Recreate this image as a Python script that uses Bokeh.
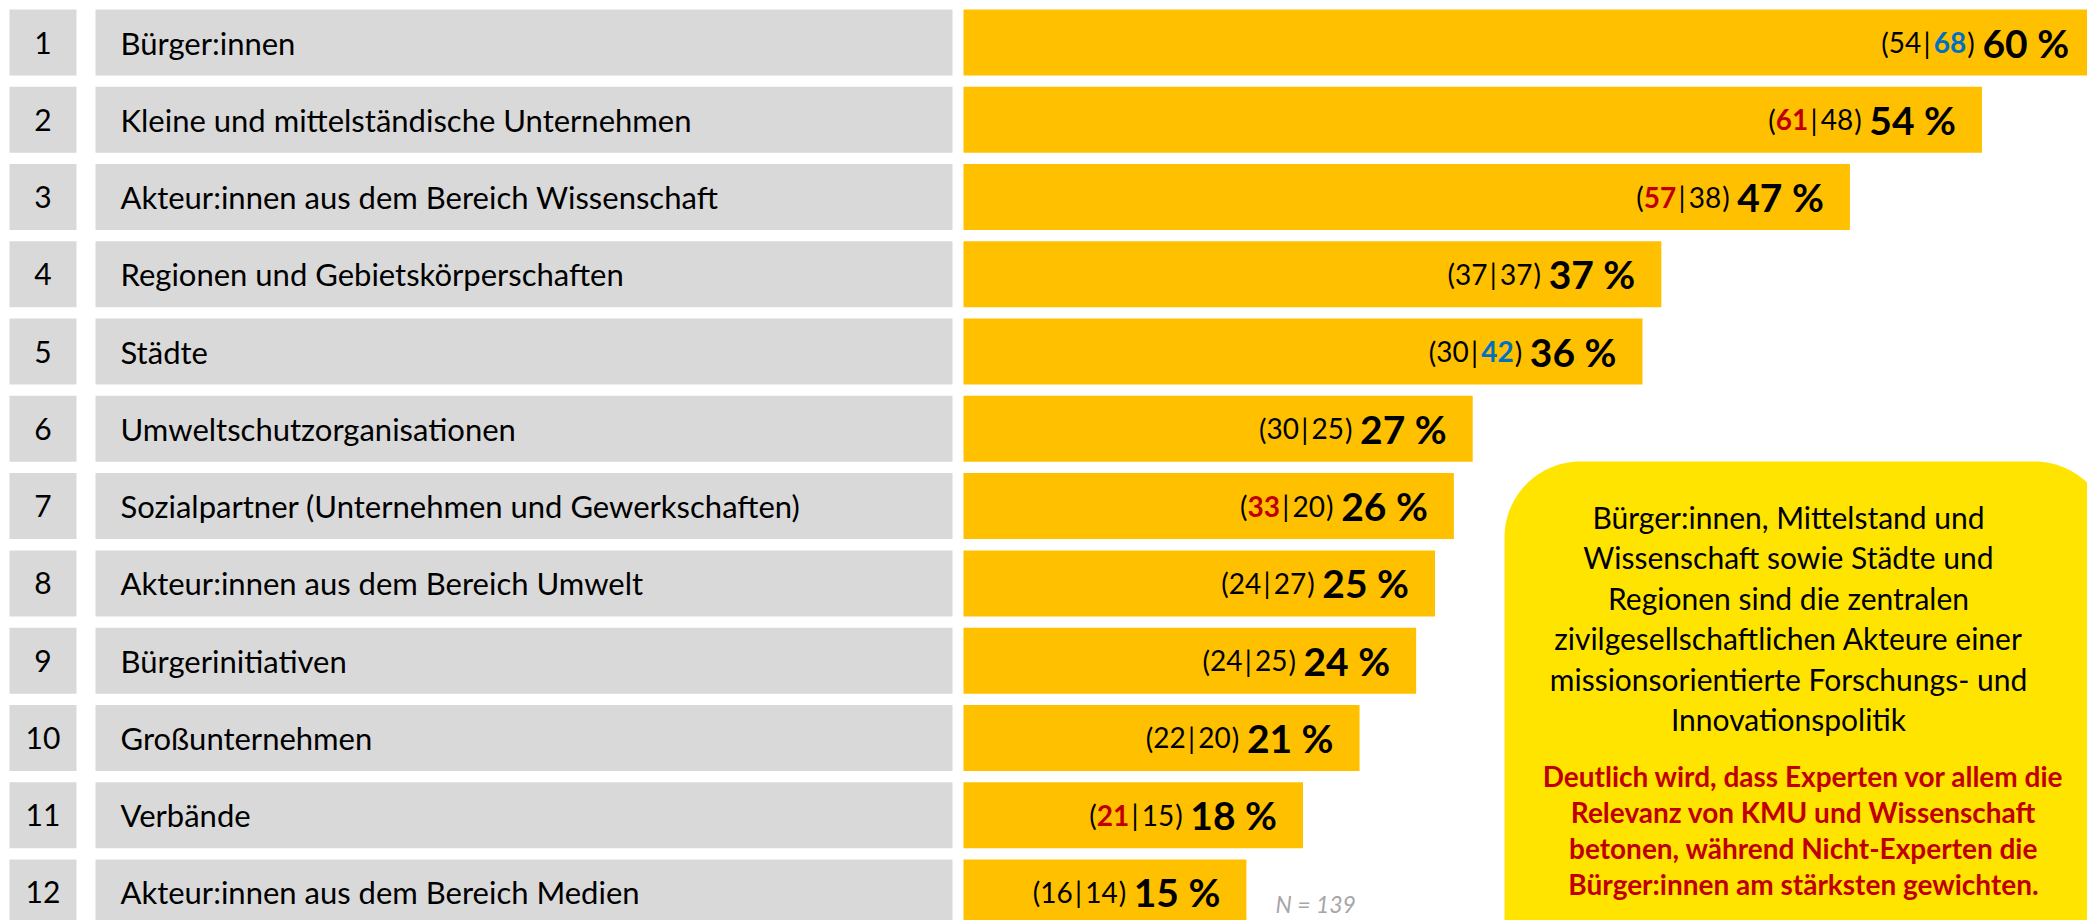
import numpy as np
from bokeh.plotting import figure
from bokeh.models import Range1d
from bokeh.embed import file_html
from bokeh.resources import INLINE
from bokeh.core.properties import value

# ---------------- data ----------------
ranks = [1, 2, 3, 4, 5, 6, 7, 8, 9, 10, 11, 12]
categories = [
    "Bürger:innen",
    "Kleine und mittelständische Unternehmen",
    "Akteur:innen aus dem Bereich Wissenschaft",
    "Regionen und Gebietskörperschaften",
    "Städte",
    "Umweltschutzorganisationen",
    "Sozialpartner (Unternehmen und Gewerkschaften)",
    "Akteur:innen aus dem Bereich Umwelt",
    "Bürgerinitiativen",
    "Großunternehmen",
    "Verbände",
    "Akteur:innen aus dem Bereich Medien",
]
total_pct = [60, 54, 47, 37, 36, 27, 26, 25, 24, 21, 18, 15]
experts = [54, 61, 57, 37, 30, 30, 33, 24, 24, 22, 21, 16]
non_experts = [68, 48, 38, 37, 42, 25, 20, 27, 25, 20, 15, 14]
experts_high = [False, True, True, False, False, False, True, False, False, False, True, False]
non_experts_high = [True, False, False, False, True, False, False, False, False, False, False, False]
n_note = "N = 139"

callout_lines = [
    "Bürger:innen, Mittelstand und",
    "Wissenschaft sowie Städte und",
    "Regionen sind die zentralen",
    "zivilgesellschaftlichen Akteure einer",
    "missionsorientierte Forschungs- und",
    "Innovationspolitik",
]
callout_red = [
    "Deutlich wird, dass Experten vor allem die",
    "Relevanz von KMU und Wissenschaft",
    "betonen, während Nicht-Experten die",
    "Bürger:innen am stärksten gewichten.",
]

# ---------------- layout ----------------
W, H = 2087, 920
PX_PER_PCT = 18.86
BAR_X0 = 963.0
ROW0 = 42.0
PITCH = 77.27
ROW_H = 66.0

GREY = "#D9D9D9"
BAR = "#FFC000"
CALLOUT = "#FFE400"
RED = "#C00000"
BLUE = "#0070C0"
FONT = value("Lato")


def X(px):
    return (px - BAR_X0) / PX_PER_PCT


def Y(py):
    return 1 + (py - ROW0) / PITCH


p = figure(width=W, height=H, output_backend="svg", toolbar_location=None,
           x_range=Range1d(X(0), X(W)), y_range=Range1d(Y(H), Y(0)),
           min_border=0, background_fill_color="white", border_fill_color="white")
p.axis.visible = False
p.grid.visible = False
p.outline_line_color = None

hh = ROW_H / PITCH
p.hbar(y=ranks, left=X(9), right=X(76), height=hh, fill_color=GREY, line_color=None)
p.hbar(y=ranks, left=X(95), right=X(952), height=hh, fill_color=GREY, line_color=None)
p.hbar(y=ranks, left=0, right=total_pct, height=hh, fill_color=BAR, line_color=None)

p.text(x=X(42.5), y=ranks, text=[str(r) for r in ranks], text_align="center",
       text_baseline="middle", text_font=FONT, text_font_size="30px", text_color="black")
p.text(x=X(120), y=ranks, text=categories, text_align="left",
       text_baseline="middle", text_font=FONT, text_font_size="31px", text_color="black")

# value labels
p.text(x=total_pct, y=ranks, text=[f"{v} %" for v in total_pct], x_offset=-26,
       text_align="right", text_baseline="middle", text_font=FONT,
       text_font_size="39px", text_font_style="bold", text_color="black")


def piece(texts, off, colors=None, styles=None):
    n = len(texts)
    colors = colors or ["black"] * n
    styles = styles or ["normal"] * n
    for st in ("normal", "bold"):
        idx = [i for i in range(n) if styles[i] == st]
        if not idx:
            continue
        p.text(x=[total_pct[i] for i in idx], y=[ranks[i] for i in idx],
               text=[texts[i] for i in idx], text_color=[colors[i] for i in idx],
               x_offset=off, text_align="center", text_baseline="middle",
               text_font=FONT, text_font_size="28px", text_font_style=st)


piece([")"] * 12, -124)
piece([str(v) for v in non_experts], -145,
      [BLUE if h else "black" for h in non_experts_high],
      ["bold" if h else "normal" for h in non_experts_high])
piece(["|"] * 12, -168)
piece([str(v) for v in experts], -190,
      [RED if h else "black" for h in experts_high],
      ["bold" if h else "normal" for h in experts_high])
piece(["("] * 12, -210)

# N note
p.text(x=[X(1275)], y=[Y(903)], text=[n_note], text_align="left", text_baseline="alphabetic",
       text_font=FONT, text_font_size="23px", text_font_style="italic", text_color="#A6A6A6")

# callout box (rounded)
L, T, R, B, r = 1504.0, 461.0, 2110.0, 1000.0, 76.0
a1 = np.linspace(np.pi, 1.5 * np.pi, 30)
a2 = np.linspace(1.5 * np.pi, 2 * np.pi, 30)
xs = [L] + list(L + r + r * np.cos(a1)) + list(R - r + r * np.cos(a2)) + [R]
ys = [B] + list(T + r + r * np.sin(a1)) + list(T + r + r * np.sin(a2)) + [B]
p.patch([X(v) for v in xs], [Y(v) for v in ys], fill_color=CALLOUT, line_color=None)

p.text(x=[X(1788)] * len(callout_lines),
       y=[Y(516 + 40.5 * i) for i in range(len(callout_lines))],
       text=callout_lines, text_align="center", text_baseline="middle",
       text_font=FONT, text_font_size="30px", text_color="black")
p.text(x=[X(1803)] * len(callout_red),
       y=[Y(775 + 36 * i) for i in range(len(callout_red))],
       text=callout_red, text_align="center", text_baseline="middle",
       text_font=FONT, text_font_size="28px", text_font_style="bold", text_color=RED)

open("out.html", "w").write(file_html(p, INLINE))
